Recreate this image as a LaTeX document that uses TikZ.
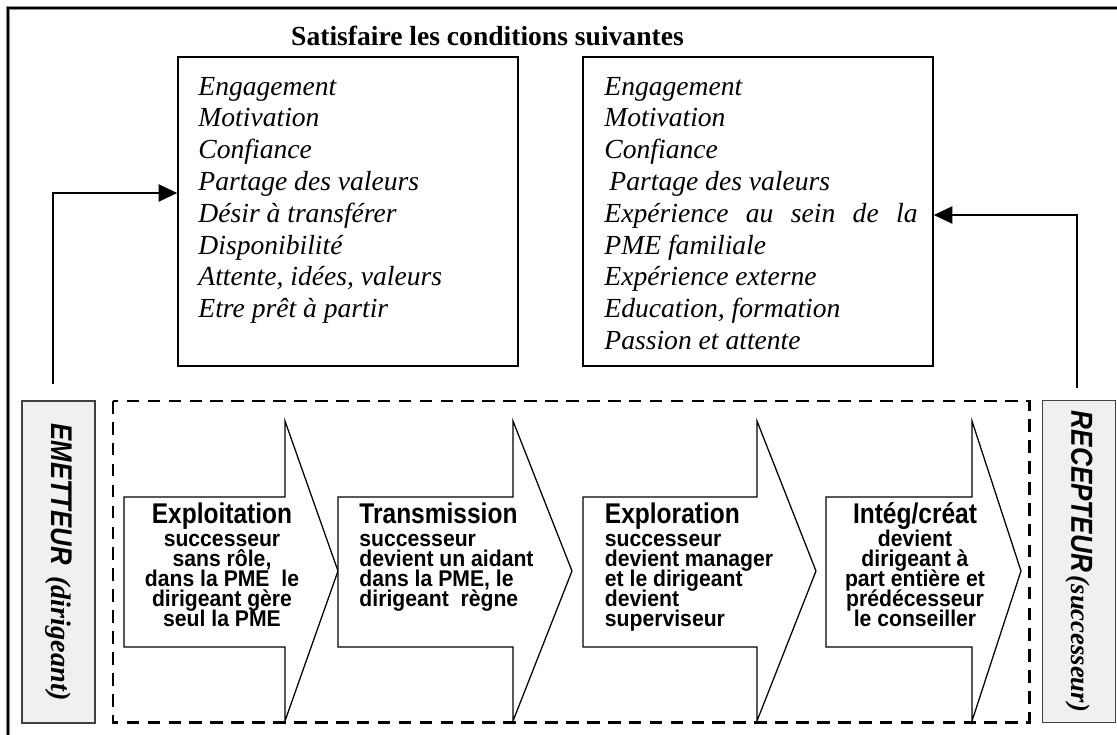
\documentclass[tikz,border=0pt]{standalone}
\usepackage{fontspec}
\setmainfont{Liberation Serif}
\setsansfont{Liberation Sans}
\newfontfamily\condsans[FakeStretch=0.86]{Liberation Sans}
\newfontfamily\subsans[FakeStretch=0.93]{Liberation Sans}
\setlength\normallineskiplimit{-20pt}
\setlength\normallineskip{0pt}
\usetikzlibrary{arrows.meta,fit}
\begin{document}
\begin{tikzpicture}[x=0.435pt,y=-0.435pt,
  frame/.style={line width=0.9pt},
  condbox/.style={draw, line width=0.75pt, inner sep=0pt},
  conn/.style={line width=0.5pt, -{Triangle[length=8pt,width=7.5pt]}},
  item/.style={anchor=base west, inner sep=0pt, font=\fontsize{12}{14}\selectfont\itshape},
  phase/.style={draw, line width=0.55pt, fill=white, line join=miter},
  head/.style={anchor=base, inner sep=0pt, font=\fontsize{12.4}{12}\selectfont\condsans\bfseries},
  sub/.style={anchor=base, inner sep=0pt, font=\fontsize{9.9}{8.7}\selectfont\subsans\bfseries},
  sidebox/.style={draw=black!75, fill=black!6, line width=0.7pt, rotate=-90,
    minimum width=140pt, minimum height=31.8pt, inner sep=0pt},
  dashbox/.style={line width=1.3pt, dash pattern=on 5.5pt off 3.6pt}
]
\useasboundingbox (0,0) rectangle (1117,735);
% outer frame (cropped at right and bottom)
\coordinate (fa) at (8,735);
\coordinate (fb) at (8,8);
\coordinate (fc) at (1117,8);
\draw[black!45, line width=1.6pt] (fa) -- (fb) -- (fc);
\draw[frame] (fa) -- (fb) -- (fc);

% title
\node[anchor=base, inner sep=0pt, font=\fontsize{12}{14}\selectfont\bfseries] (title) at (487.5,45) {Satisfaire les conditions suivantes};

% condition boxes
\coordinate (l1) at (178,57); \coordinate (l2) at (518,366);
\coordinate (r1) at (583,57); \coordinate (r2) at (933,366);
\node[condbox, fit=(l1)(l2)] (L) {};
\node[condbox, fit=(r1)(r2)] (R) {};

\foreach \t [count=\i from 0] in {Engagement,Motivation,Confiance,Partage des valeurs,D\'esir \`a transf\'erer,Disponibilit\'e,{Attente, id\'ees, valeurs},Etre pr\^et \`a partir}
  \node[item] (li\i) at (198,95+31.8*\i) {\t};

\node[item] (ri0) at (604,95) {Engagement};
\node[item] (ri1) at (604,126.8) {Motivation};
\node[item] (ri2) at (604,158.6) {Confiance};
\node[item] (ri3) at (609,190.4) {Partage des valeurs};
\node[item] (ri4) at (604,222.2) {\makebox[136.2pt][s]{Exp\'erience au sein de la}};
\node[item] (ri5) at (604,254) {PME familiale};
\node[item] (ri6) at (604,285.8) {Exp\'erience externe};
\node[item] (ri7) at (604,317.6) {Education, formation};
\node[item] (ri8) at (604,349.4) {Passion et attente};

% dashed process frame
\coordinate (d1) at (113,401); \coordinate (d2) at (1029,722);
\draw[dashbox] (d1) rectangle (d2);

% side boxes
\node[sidebox] (em) at (58.5,562) {{\fontsize{13}{13}\selectfont\condsans\bfseries\itshape EMETTEUR}\ \ {\fontsize{12.3}{13}\selectfont\bfseries\itshape (dirigeant)}};
\node[sidebox] (rc) at (1079,561.5) {{\fontsize{13.2}{13}\selectfont\condsans\bfseries\itshape RECEPTEUR}\,{\fontsize{11.6}{13}\selectfont\bfseries\itshape (successeur)}};

% connectors
\coordinate (ls) at (53,384);
\coordinate (lt) at (178,193);
\draw[conn] (ls) |- (L.west |- lt);
\coordinate (rs) at (1077,388);
\coordinate (rt) at (933,215);
\draw[conn] (rs) |- (R.east |- rt);

% phase arrows
\foreach \a/\b/\c in {124/285/338, 338/513/572, 583/757/816, 826/972/1021}
  \draw[phase] (\a,497) -- (\b,497) -- (\b,421) -- (\c,571) -- (\b,721) -- (\b,647) -- (\a,647) -- cycle;

% phase texts
\node[head] (h1) at (222,523) {Exploitation};
\node[sub] (s1) at (222,546) {\begin{minipage}[t]{90pt}\centering successeur\\ sans r\^ole,\\ dans la PME\ \ le\\ dirigeant g\`ere\\ seul la PME\end{minipage}};

\node[head, anchor=base west] (h2) at (359,523) {Transmission};
\node[sub, anchor=base west] (s2) at (359,546) {\begin{minipage}[t]{90pt}\raggedright successeur\\ devient un aidant\\ dans la PME, le\\ dirigeant\ \ r\`egne\end{minipage}};

\node[head, anchor=base west] (h3) at (604.5,523) {Exploration};
\node[sub, anchor=base west] (s3) at (604.5,546) {\begin{minipage}[t]{90pt}\raggedright successeur\\ devient manager\\ et le dirigeant\\ devient\\ superviseur\end{minipage}};

\node[head] (h4) at (915,523) {Int\'eg/cr\'eat};
\node[sub] (s4) at (915,546) {\begin{minipage}[t]{90pt}\centering devient\\ dirigeant \`a\\ part enti\`ere et\\ pr\'ed\'ecesseur\\ le conseiller\end{minipage}};
\end{tikzpicture}
\end{document}
